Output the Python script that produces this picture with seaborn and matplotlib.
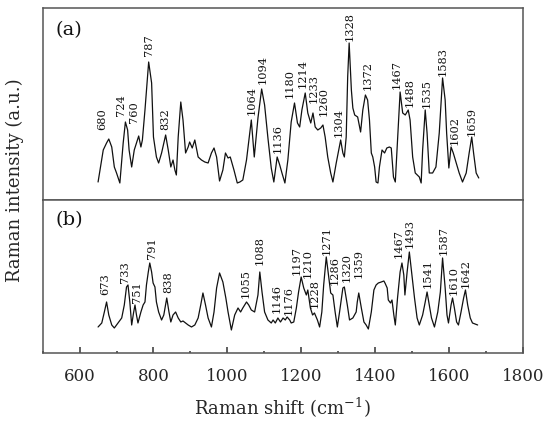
import numpy as np
import pandas as pd
import matplotlib
matplotlib.use("Agg")
import matplotlib.pyplot as plt
from matplotlib.ticker import MultipleLocator
import seaborn as sns

# spectrum (a): Raman shift (cm-1) and intensity (a.u.)
shift_a = [650, 664, 673, 679, 687, 694, 700, 709, 718, 724,
           730, 734, 741, 748, 754, 760, 766, 770, 777, 787,
           795, 800, 808, 814, 822, 833, 840, 847, 853, 858,
           862, 867, 874, 880, 887, 894, 898, 905, 912, 921,
           930, 939, 948, 957, 964, 971, 979, 988, 995, 1002,
           1008, 1014, 1018, 1027, 1034, 1042, 1052, 1065, 1073, 1083,
           1093, 1101, 1110, 1119, 1126, 1135, 1142, 1148, 1156, 1164,
           1173, 1182, 1190, 1196, 1202, 1211, 1218, 1226, 1232, 1238,
           1245, 1253, 1259, 1265, 1272, 1280, 1286, 1295, 1307, 1313,
           1317, 1322, 1326, 1330, 1336, 1340, 1345, 1353, 1361, 1367,
           1374, 1380, 1385, 1390, 1394, 1399, 1403, 1408, 1412, 1419,
           1426, 1432, 1439, 1444, 1450, 1455, 1462, 1468, 1475, 1482,
           1490, 1495, 1502, 1509, 1520, 1525, 1529, 1536, 1541, 1547,
           1556, 1565, 1574, 1583, 1590, 1594, 1600, 1606, 1612, 1620,
           1628, 1637, 1647, 1655, 1662, 1667, 1674, 1681]
inten_a = [18, 50, 57, 61, 53, 33, 27, 17, 57, 78,
           70, 50, 33, 50, 57, 64, 53, 60, 90, 138,
           117, 63, 43, 37, 47, 65, 50, 33, 40, 30,
           25, 63, 98, 80, 47, 53, 58, 52, 60, 43,
           40, 38, 37, 47, 52, 43, 19, 30, 47, 42,
           43, 35, 30, 17, 18, 20, 40, 80, 43, 82,
           111, 95, 62, 32, 18, 43, 35, 27, 17, 40,
           78, 97, 77, 73, 90, 107, 87, 77, 87, 73,
           70, 72, 75, 63, 43, 27, 18, 37, 60, 47,
           43, 63, 123, 157, 110, 92, 85, 83, 68, 90,
           105, 100, 80, 47, 43, 33, 18, 17, 33, 50,
           47, 52, 53, 52, 23, 18, 67, 108, 87, 85,
           90, 80, 43, 27, 23, 17, 50, 90, 67, 27,
           27, 33, 67, 122, 100, 67, 32, 53, 47, 37,
           27, 18, 27, 47, 63, 47, 27, 22]

# spectrum (b)
shift_b = [650, 660, 667, 673, 679, 687, 694, 700, 706, 714,
           721, 727, 731, 736, 741, 746, 750, 754, 758, 766,
           772, 777, 781, 786, 790, 795, 799, 804, 808, 814,
           822, 828, 836, 842, 847, 853, 860, 867, 874, 880,
           887, 894, 903, 912, 921, 928, 934, 941, 948, 957,
           964, 971, 979, 988, 996, 1002, 1011, 1020, 1029, 1036,
           1042, 1052, 1058, 1065, 1074, 1083, 1088, 1094, 1101, 1110,
           1119, 1124, 1130, 1137, 1144, 1151, 1157, 1162, 1169, 1173,
           1180, 1187, 1193, 1200, 1207, 1214, 1218, 1225, 1231, 1236,
           1244, 1250, 1256, 1261, 1268, 1274, 1280, 1286, 1292, 1298,
           1304, 1313, 1317, 1325, 1331, 1340, 1349, 1352, 1356, 1363,
           1370, 1376, 1382, 1390, 1397, 1403, 1409, 1417, 1424, 1427,
           1433, 1436, 1442, 1446, 1451, 1455, 1461, 1468, 1473, 1478,
           1481, 1487, 1493, 1499, 1507, 1514, 1520, 1529, 1536, 1541,
           1547, 1553, 1561, 1570, 1577, 1583, 1590, 1595, 1599, 1606,
           1610, 1615, 1621, 1626, 1633, 1640, 1645, 1651, 1658, 1664,
           1671, 1678]
inten_b = [26, 30, 41, 51, 38, 28, 25, 28, 31, 35,
           48, 66, 68, 51, 28, 40, 48, 38, 30, 41,
           48, 51, 68, 81, 90, 81, 70, 66, 51, 41,
           33, 38, 55, 41, 31, 38, 41, 35, 31, 32,
           30, 28, 26, 28, 35, 48, 60, 48, 35, 26,
           41, 65, 80, 71, 55, 41, 23, 38, 45, 41,
           45, 51, 48, 43, 41, 58, 81, 61, 41, 33,
           30, 33, 30, 35, 31, 35, 33, 36, 33, 30,
           31, 45, 61, 76, 65, 58, 63, 45, 38, 40,
           33, 26, 41, 68, 96, 78, 60, 58, 41, 26,
           41, 65, 66, 48, 33, 35, 41, 51, 60, 45,
           31, 28, 24, 41, 63, 68, 70, 71, 72, 70,
           65, 53, 50, 53, 38, 28, 55, 81, 90, 78,
           58, 81, 101, 81, 55, 35, 28, 38, 51, 61,
           48, 35, 26, 41, 61, 95, 65, 38, 30, 48,
           55, 45, 31, 28, 41, 55, 63, 48, 35, 30,
           29, 28]

# peak labels: text, where the label stands (x) and its lower end (y)
peaks_a = ["680", "724", "760", "787", "832", "1064", "1094", "1136", "1180",
           "1214", "1233", "1260", "1304", "1328", "1372", "1467", "1488",
           "1535", "1583", "1602", "1659"]
lab_x_a = [660, 712, 747, 788, 833, 1065, 1095, 1137, 1170,
           1205, 1233, 1262, 1301, 1331, 1380, 1459, 1495,
           1539, 1583, 1615, 1662]
lab_y_a = [70, 84, 77, 144, 70, 85, 116, 47, 102,
           112, 97, 84, 63, 159, 110, 111, 93,
           92, 124, 55, 64]

peaks_b = ["673", "733", "751", "791", "838", "1055", "1088", "1146", "1176",
           "1197", "1210", "1228", "1271", "1286", "1320", "1359", "1467",
           "1493", "1541", "1587", "1610", "1642"]
lab_x_b = [670, 724, 755, 795, 840, 1049, 1088, 1134, 1166,
           1188, 1217, 1236, 1269, 1291, 1322, 1355, 1464,
           1493, 1543, 1586, 1613, 1645]
lab_y_b = [58, 70, 50, 94, 60, 55, 88, 40, 38,
           78, 75, 45, 98, 68, 71, 75, 95,
           105, 65, 98, 58, 65]

sns.set_style("white")
plt.rcParams['font.family'] = ['DejaVu Serif']
plt.rcParams['mathtext.fontset'] = 'dejavuserif'

fig = plt.figure(figsize=(5.53, 4.30), dpi=100)
ax_a = fig.add_axes([0.0772, 0.5349, 0.868, 0.4465])
ax_b = fig.add_axes([0.0772, 0.1791, 0.868, 0.3558])

panels = [
    (ax_a, shift_a, inten_a, peaks_a, lab_x_a, lab_y_a, "(a)", 192),
    (ax_b, shift_b, inten_b, peaks_b, lab_x_b, lab_y_b, "(b)", 153),
]

for ax, xs, ys, labels, lx, ly, tag, ytop in panels:
    df = pd.DataFrame({"shift": xs, "intensity": ys})
    sns.lineplot(data=df, x="shift", y="intensity", ax=ax, color="#111111",
                 linewidth=0.9, estimator=None, sort=False)
    for txt, x, y in zip(labels, lx, ly):
        ax.text(x, y, txt, rotation=90, ha="center", va="bottom",
                fontsize=8.2, color="#111111")
    ax.text(0.026, 0.93, tag, transform=ax.transAxes, ha="left", va="top",
            fontsize=14, color="#111111")
    ax.set_xlim(500, 1800)
    ax.set_ylim(0, ytop)
    ax.set_xlabel("")
    ax.set_ylabel("")
    ax.set_yticks([])
    for sp in ax.spines.values():
        sp.set_color("#555555")
        sp.set_linewidth(1.1)

ax_a.set_xticks([])

ax_b.xaxis.set_major_locator(MultipleLocator(200))
ax_b.xaxis.set_minor_locator(MultipleLocator(100))
ax_b.tick_params(axis="x", which="major", direction="in", length=4, width=1.1,
                 color="#333333", labelsize=12, pad=11, bottom=True)
ax_b.tick_params(axis="x", which="minor", direction="in", length=1.5, width=1.1,
                 color="#333333", bottom=True)
ax_b.set_xlabel("Raman shift (cm$^{-1}$)", fontsize=13, labelpad=8)

fig.text(0.027, (0.1791 + 0.9814) / 2, "Raman intensity (a.u.)", rotation=90,
         ha="center", va="center", fontsize=13)

fig.savefig("out.png", dpi=100)
